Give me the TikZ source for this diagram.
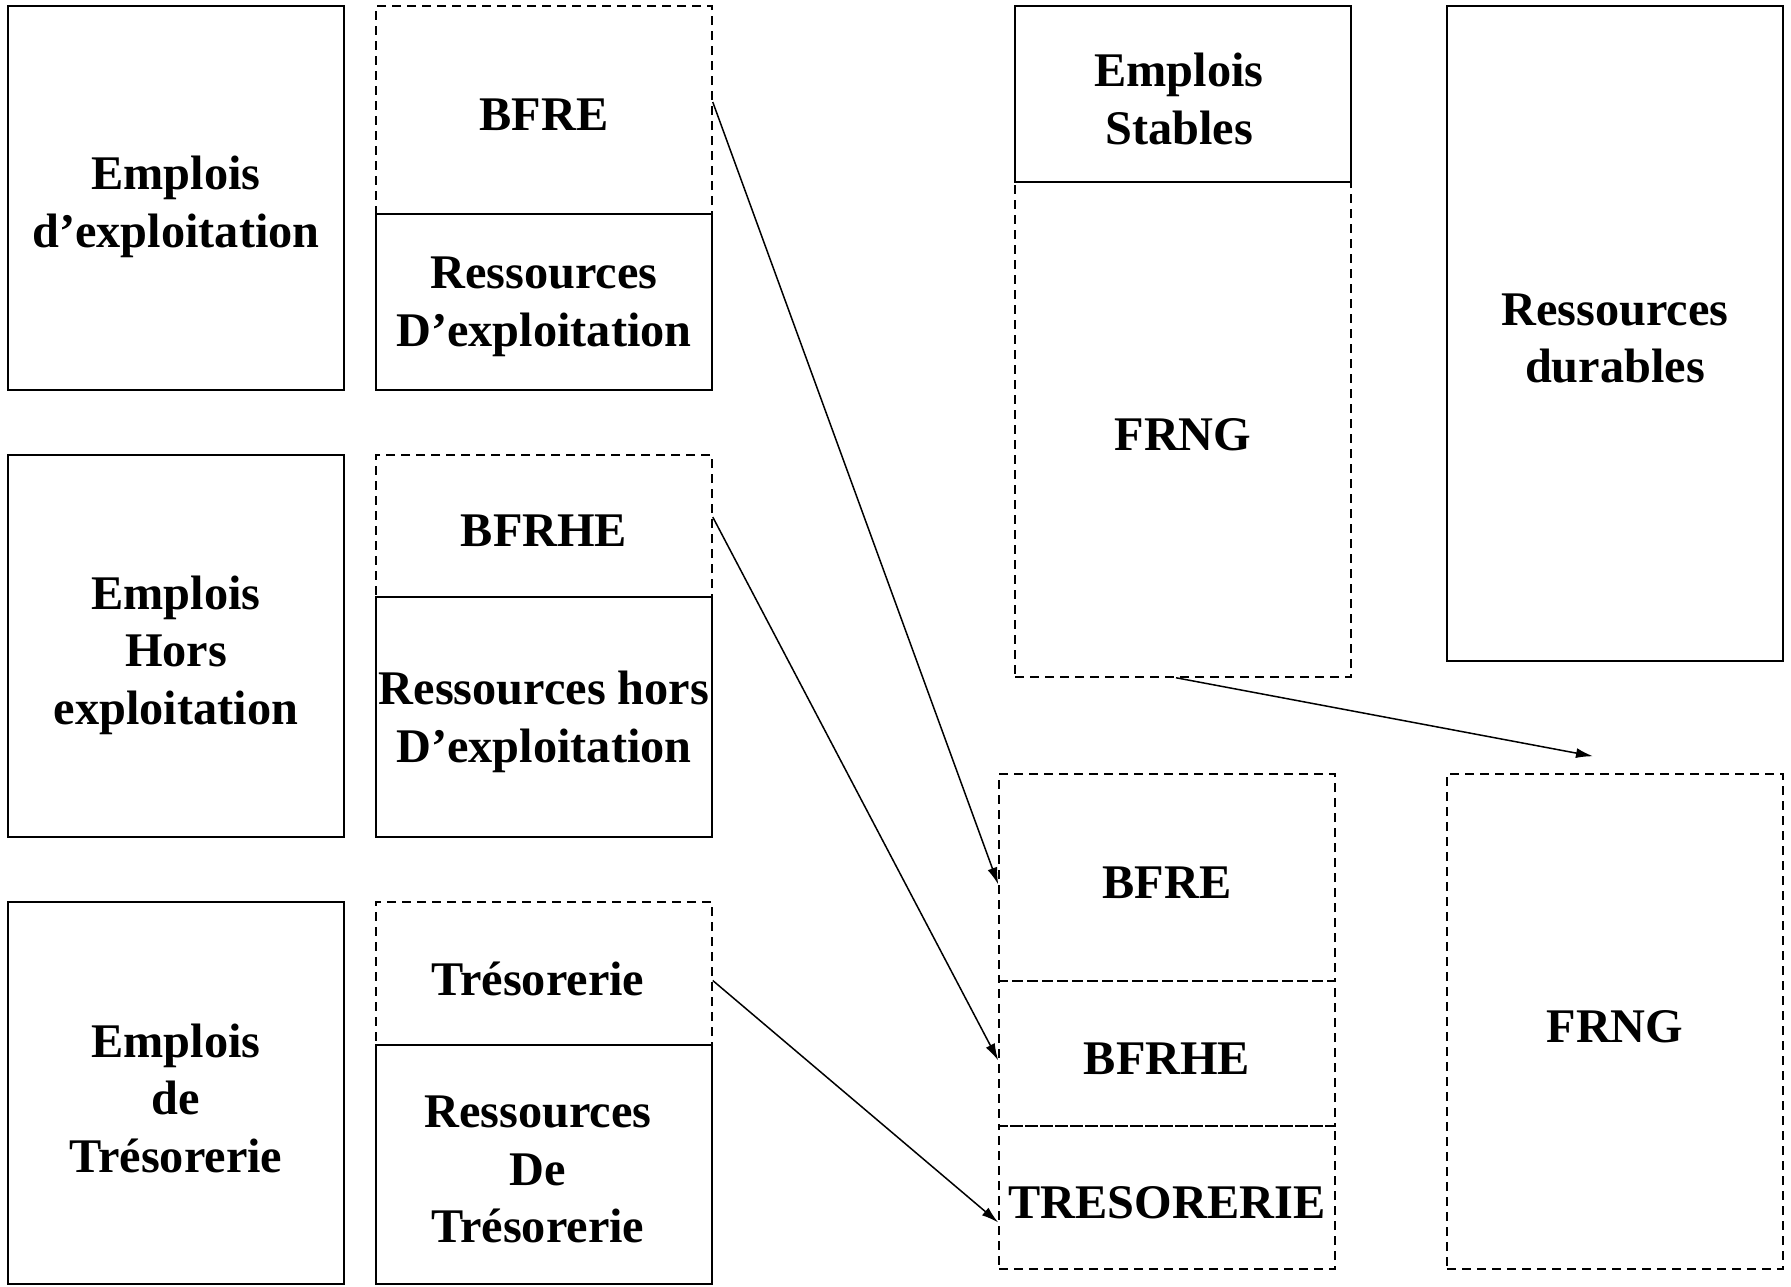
\documentclass[tikz,border=0pt]{standalone}
\usepackage{fontspec}
\setmainfont{Liberation Serif}
\usetikzlibrary{arrows.meta}
\tikzset{
  cell/.style={minimum width=336pt, inner sep=0pt},
  txt/.style={align=center, inner sep=0pt, yshift=-5pt,
    font=\bfseries\fontsize{48.3}{57.5}\selectfont},
  solidbox/.style={cell, draw, line width=2pt},
  dashbox/.style={cell, draw, line width=1.5pt, dash pattern=on 9pt off 6pt},
  conn/.style={-{Latex[length=17pt,width=10pt]}, line width=1.5pt}
}
\begin{document}
\begin{tikzpicture}[x=1pt,y=-1pt]
\useasboundingbox (0,0) rectangle (1791,1286);
% dashed cells
\node[dashbox, minimum height=208pt, label={[txt]center:BFRE}] (B1) at (544,110) {};
\node[dashbox, minimum height=142pt, label={[txt]center:BFRHE}] (B2) at (544,526) {};
\node[dashbox, minimum height=143pt, label={[txt,xshift=-6pt]center:Trésorerie}] (B3) at (544,973.5) {};
\node[dashbox, minimum height=495pt, label={[txt]center:FRNG}] (C2) at (1183,429.5) {};
\node[dashbox, minimum height=207pt, label={[txt]center:BFRE}] (E1) at (1167,877.5) {};
\node[dashbox, minimum height=145pt, label={[txt]center:BFRHE}] (E2) at (1167,1053.5) {};
\node[dashbox, minimum height=143pt, label={[txt]center:TRESORERIE}] (E3) at (1167,1197.5) {};
\node[dashbox, minimum height=495pt, label={[txt]center:FRNG}] (D2) at (1615,1021.5) {};
% solid cells
\node[solidbox, minimum height=384pt, label={[txt,yshift=-4pt]center:Emplois\\d’exploitation}] (A1) at (176,198) {};
\node[solidbox, minimum height=382pt, label={[txt,yshift=-4pt]center:Emplois\\Hors\\exploitation}] (A2) at (176,646) {};
\node[solidbox, minimum height=382pt, label={[txt]center:Emplois\\de\\Trésorerie}] (A3) at (176,1093) {};
\node[solidbox, minimum height=176pt, label={[txt]center:Ressources\\D’exploitation}] (B1r) at (544,302) {};
\node[solidbox, minimum height=240pt, label={[txt]center:Ressources hors\\D’exploitation}] (B2r) at (544,717) {};
\node[solidbox, minimum height=239pt, label={[txt,xshift=-6pt]center:Ressources\\De\\Trésorerie}] (B3r) at (544,1164.5) {};
\node[solidbox, minimum height=176pt, label={[txt,xshift=-4pt]center:Emplois\\Stables}] (C1) at (1183,94) {};
\node[solidbox, minimum height=655pt, label={[txt]center:Ressources\\durables}] (D1) at (1615,333.5) {};
% connectors
\coordinate (t4) at ([xshift=-22pt,yshift=17pt]D2.north);
\draw[conn] ([yshift=8pt]B1.east) -- ([yshift=-7pt]E1.west);
\draw[conn] ([yshift=9pt]B2.east) -- ([yshift=-7pt]E2.west);
\draw[conn] ([yshift=-7pt]B3.east) -- ([yshift=-25pt]E3.west);
\draw[conn] ([xshift=-7pt]C2.south) -- (t4);
\end{tikzpicture}
\end{document}
